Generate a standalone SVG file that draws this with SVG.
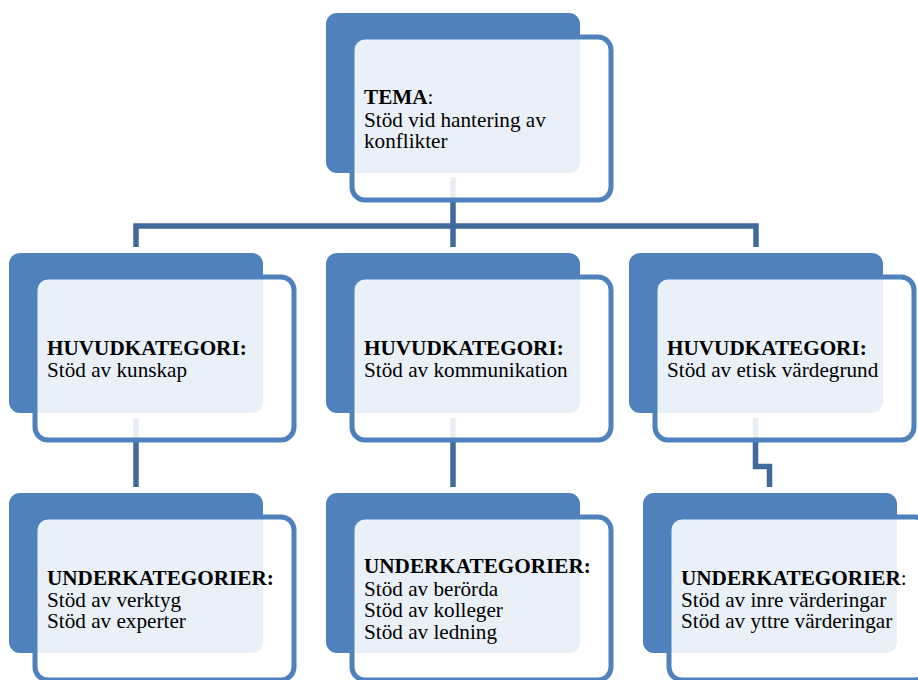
<svg xmlns="http://www.w3.org/2000/svg" width="918" height="680" viewBox="0 0 918 680">
  <style>
    .back{fill:#4F81BD}
    .front{fill:#FFFFFF;fill-opacity:0.88;stroke:#4F81BD;stroke-width:5}
    .conn{fill:none;stroke:#41699C;stroke-width:5.5;stroke-linejoin:miter}
    text{font-family:"Liberation Serif","Times New Roman",serif;font-size:21.2px;fill:#000000}
    .b{font-weight:bold}
  </style>
  <rect width="918" height="680" fill="#FFFFFF"/>

  <!-- hierarchy connectors, drawn beneath the nodes -->
  <g id="connectors">
    <path class="conn" d="M453,177 V226"/>
    <path class="conn" d="M136,247 V226 H756 V247"/>
    <path class="conn" d="M453,226 V247"/>
    <path class="conn" d="M136,418 V487"/>
    <path class="conn" d="M453,418 V487"/>
    <path class="conn" d="M755.5,418 V466.5 H769.5 V487"/>
  </g>

  <!-- theme -->
  <g id="tema" transform="translate(326,13)">
    <rect class="back" x="0" y="0" width="254" height="160" rx="11"/>
    <rect class="front" x="26" y="24" width="259" height="163" rx="13"/>
    <text x="38" y="91"><tspan class="b">TEMA</tspan>:<tspan x="38" y="113.5">Stöd vid hantering av</tspan><tspan x="38" y="135">konflikter</tspan></text>
  </g>

  <!-- main categories -->
  <g id="huvud-kunskap" transform="translate(9,253)">
    <rect class="back" x="0" y="0" width="254" height="160" rx="11"/>
    <rect class="front" x="26" y="24" width="259" height="163" rx="13"/>
    <text x="38" y="102"><tspan class="b">HUVUDKATEGORI:</tspan><tspan x="38" y="124">Stöd av kunskap</tspan></text>
  </g>

  <g id="huvud-kommunikation" transform="translate(326,253)">
    <rect class="back" x="0" y="0" width="254" height="160" rx="11"/>
    <rect class="front" x="26" y="24" width="259" height="163" rx="13"/>
    <text x="38" y="102"><tspan class="b">HUVUDKATEGORI:</tspan><tspan x="38" y="124">Stöd av kommunikation</tspan></text>
  </g>

  <g id="huvud-etik" transform="translate(629,253)">
    <rect class="back" x="0" y="0" width="254" height="160" rx="11"/>
    <rect class="front" x="26" y="24" width="259" height="163" rx="13"/>
    <text x="38" y="102"><tspan class="b">HUVUDKATEGORI:</tspan><tspan x="38" y="124">Stöd av etisk värdegrund</tspan></text>
  </g>

  <!-- subcategories -->
  <g id="under-kunskap" transform="translate(9,493)">
    <rect class="back" x="0" y="0" width="254" height="160" rx="11"/>
    <rect class="front" x="26" y="24" width="259" height="163" rx="13"/>
    <text x="38" y="92"><tspan class="b">UNDERKATEGORIER:</tspan><tspan x="38" y="113.5">Stöd av verktyg</tspan><tspan x="38" y="135">Stöd av experter</tspan></text>
  </g>

  <g id="under-kommunikation" transform="translate(326,493)">
    <rect class="back" x="0" y="0" width="254" height="160" rx="11"/>
    <rect class="front" x="26" y="24" width="259" height="163" rx="13"/>
    <text x="38" y="80"><tspan class="b">UNDERKATEGORIER:</tspan><tspan x="38" y="102.5">Stöd av berörda</tspan><tspan x="38" y="124">Stöd av kolleger</tspan><tspan x="38" y="146">Stöd av ledning</tspan></text>
  </g>

  <g id="under-etik" transform="translate(643,493)">
    <rect class="back" x="0" y="0" width="254" height="160" rx="11"/>
    <rect class="front" x="26" y="24" width="259" height="163" rx="13"/>
    <text x="38" y="92"><tspan class="b">UNDERKATEGORIER</tspan>:<tspan x="38" y="113.5">Stöd av inre värderingar</tspan><tspan x="38" y="135">Stöd av yttre värderingar</tspan></text>
  </g>
</svg>
